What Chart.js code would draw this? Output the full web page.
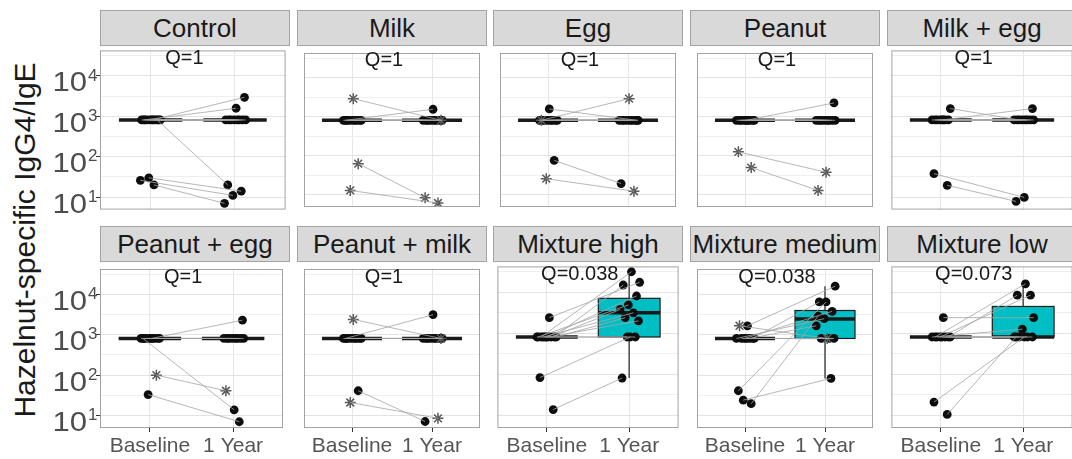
<!DOCTYPE html>
<html>
<head>
<meta charset="utf-8">
<title>Hazelnut-specific IgG4/IgE</title>
<script src="https://cdn.jsdelivr.net/npm/chart.js@4.4.1/dist/chart.umd.min.js"></script>
<style>
  html, body { margin: 0; padding: 0; background: #fff; overflow: hidden; }
  #fig { position: relative; width: 1072px; height: 459px; overflow: hidden; font-family: "Liberation Sans", Arial, sans-serif; }
  #fig canvas { position: absolute; }
  .strip { position: absolute; box-sizing: border-box; width: 190px; height: 36px; background: #d9d9d9;
           border: 1px solid #a3a3a3; color: #1a1a1a; font-size: 26px; line-height: 34px;
           text-align: center; white-space: nowrap; overflow: hidden; }
  #ytitle { position: absolute; left: -175px; top: 225px; width: 400px; height: 30px; font-size: 30px;
            line-height: 30px; text-align: center; white-space: nowrap; color: #1a1a1a; transform: rotate(-90deg); }
</style>
</head>
<body>
<div id="fig">
  <div id="ytitle">Hazelnut-specific IgG4/IgE</div>
</div>
<script>
// ---- data ---------------------------------------------------------------
const panelNames = ['Control', 'Milk', 'Egg', 'Peanut', 'Milk + egg',
                    'Peanut + egg', 'Peanut + milk', 'Mixture high', 'Mixture medium', 'Mixture low'];
const qLabels = ['Q=1', 'Q=1', 'Q=1', 'Q=1', 'Q=1', 'Q=1', 'Q=1', 'Q=0.038', 'Q=0.038', 'Q=0.073'];
const timeLabels = ['Baseline', '1 Year'];
const yTickValues = [10, 100, 1000, 10000];
const yTickPowers = ['1', '2', '3', '4'];

// one entry per participant, same index at baseline and at 1 year
const baselineValues = [
  [810, 810, 810, 810, 810, 810, 810, 810, 810, 810, 810, 30, 26, 20],
  [810, 810, 810, 810, 810, 810, 810, 810, 2900, 810, 63, 13],
  [810, 810, 810, 810, 810, 810, 810, 810, 1580, 810, 76, 26],
  [810, 810, 810, 810, 810, 810, 810, 810, 810, 126, 50],
  [810, 810, 810, 810, 810, 810, 810, 1550, 810, 38, 19.5],
  [810, 810, 810, 810, 810, 810, 810, 810, 810, 810, 100, 33],
  [810, 810, 810, 810, 810, 810, 810, 810, 2400, 810, 41, 21],
  [2400, 810, 810, 810, 810, 810, 810, 810, 810, 83, 13.8, 810, 810],
  [1670, 1670, 810, 810, 810, 810, 810, 810, 810, 41, 19.6, 24],
  [2400, 810, 810, 810, 810, 810, 810, 810, 810, 21, 10.5]
];
const yearValues = [
  [810, 810, 810, 810, 810, 810, 810, 810, 2950, 1580, 20, 14, 11, 7],
  [810, 810, 810, 810, 810, 810, 810, 810, 810, 1550, 8.4, 6.2],
  [810, 810, 810, 810, 810, 810, 810, 810, 810, 2900, 19.5, 12.4],
  [810, 810, 810, 810, 810, 810, 810, 810, 2250, 38, 13],
  [810, 810, 810, 810, 810, 810, 810, 810, 1550, 9.8, 7.8],
  [810, 810, 810, 810, 810, 810, 810, 810, 2300, 13.8, 41, 7],
  [810, 810, 810, 810, 810, 810, 810, 810, 810, 3150, 7.1, 8.5],
  [17500, 31600, 15000, 8100, 4900, 3800, 3150, 2400, 2000, 810, 81, 810, 810],
  [16000, 810, 6500, 3800, 2500, 1670, 810, 810, 810, 6500, 2900, 83],
  [2400, 16000, 8500, 8500, 1260, 810, 810, 810, 810, 810, 810]
];
// participants drawn as asterisks instead of dots (indexes into the rows above)
const asteriskRows = [[], [8, 10, 11], [9, 11], [9, 10], [], [10], [8, 11], [], [1], []];

// box summaries: [lower whisker, q1, median, q3, upper whisker]
const baselineBoxes = [
  [810, 810, 810, 810, 810], [810, 810, 810, 810, 810], [810, 810, 810, 810, 810],
  [810, 810, 810, 810, 810], [810, 810, 810, 810, 810], [810, 810, 810, 810, 810],
  [810, 810, 810, 810, 810], [810, 810, 810, 810, 810], [810, 810, 810, 810, 810],
  [810, 810, 810, 810, 810]
];
const yearBoxes = [
  [810, 810, 810, 810, 810], [810, 810, 810, 810, 810], [810, 810, 810, 810, 810],
  [810, 810, 810, 810, 810], [810, 810, 810, 810, 810], [810, 810, 810, 810, 810],
  [810, 810, 810, 810, 810],
  [81, 810, 3150, 7100, 31600],
  [83, 810, 2470, 4000, 16000],
  [810, 810, 810, 4500, 16000]
];

// ---- layout -------------------------------------------------------------
const FONT = '"Liberation Sans", Arial, sans-serif';
const PANEL_W = 190;
const colLeft = [100, 297, 493, 690, 887];
const rowTop = [46, 262];
const rowHeight = [168, 166];
const stripTop = [10, 226];
const boxFill = ['#f8766d', '#00bfc4'];
const Y_MIN = Math.pow(10, 0.69);
const Y_MAX = Math.pow(10, 4.63);

Chart.defaults.font.family = FONT;
Chart.defaults.animation = false;

// spread points sideways so identical values do not sit on top of each other
function jitter(i, t) {
  const u = ((i + 1) * 0.6180339 + t * 0.37) % 1;
  return (u - 0.5) * 0.26;
}

function isMajor(v) {
  return Math.abs(Math.log10(v) - Math.round(Math.log10(v))) < 1e-6;
}

// grid at every decade and half decade
const gridValues = [];
for (let e = 1; e <= 4.5; e += 0.5) gridValues.push(Math.pow(10, e));

const panelDecor = {
  id: 'panelDecor',
  beforeDatasetsDraw(chart, args, opts) {
    const { ctx, scales: { x, y } } = chart;
    const p = opts.panel;
    [baselineBoxes[p], yearBoxes[p]].forEach((box, t) => {
      const [lo, q1, med, q3, hi] = box;
      const cx = x.getPixelForValue(t + 1);
      const x0 = x.getPixelForValue(t + 1 - 0.375);
      const x1 = x.getPixelForValue(t + 1 + 0.375);
      const yq1 = y.getPixelForValue(q1);
      const yq3 = y.getPixelForValue(q3);
      ctx.save();
      // whiskers
      ctx.strokeStyle = '#555';
      ctx.lineWidth = 1.6;
      ctx.beginPath();
      if (hi > q3) { ctx.moveTo(cx, yq3); ctx.lineTo(cx, y.getPixelForValue(hi)); }
      if (lo < q1) { ctx.moveTo(cx, yq1); ctx.lineTo(cx, y.getPixelForValue(lo)); }
      ctx.stroke();
      // box and median
      ctx.fillStyle = boxFill[t];
      ctx.fillRect(x0, yq3, x1 - x0, yq1 - yq3);
      ctx.strokeStyle = '#1a1a1a';
      ctx.lineWidth = 1.2;
      ctx.strokeRect(x0, yq3, x1 - x0, yq1 - yq3);
      const ym = y.getPixelForValue(med);
      ctx.lineWidth = 3.4;
      ctx.beginPath();
      ctx.moveTo(x0, ym);
      ctx.lineTo(x1, ym);
      ctx.stroke();
      ctx.restore();
    });
  },
  afterDraw(chart, args, opts) {
    const { ctx, chartArea: a, scales: { x, y } } = chart;
    ctx.save();
    ctx.strokeStyle = '#a3a3a3';
    ctx.lineWidth = 1;
    ctx.strokeRect(a.left + 0.5, a.top + 0.5, a.right - a.left - 1, a.bottom - a.top - 1);

    // test result above the boxes
    ctx.fillStyle = '#1a1a1a';
    ctx.font = '20px ' + FONT;
    ctx.textAlign = 'center';
    ctx.textBaseline = 'middle';
    ctx.fillText(qLabels[opts.panel], x.getPixelForValue(1.4), y.getPixelForValue(Math.pow(10, 4.43)));

    // power-of-ten labels on the first column, a little wider than the plain font
    if (opts.col === 0) {
      ctx.fillStyle = '#4d4d4d';
      yTickValues.forEach((v, i) => {
        const py = y.getPixelForValue(v);
        ctx.save();
        ctx.translate(a.left - 13, py + 8);
        ctx.scale(1.15, 1);
        ctx.font = '27px ' + FONT;
        ctx.textAlign = 'right';
        ctx.fillText('10', 0, 0);
        ctx.restore();
        ctx.font = '17px ' + FONT;
        ctx.textAlign = 'left';
        ctx.fillText(yTickPowers[i], a.left - 12, py);
      });
    }
    ctx.restore();
  }
};

function makePanel(p) {
  const col = p % 5;
  const row = Math.floor(p / 5);
  const leftAxis = col === 0 ? 100 : 0;
  const bottomAxis = row === 1 ? 31 : 0;
  const fig = document.getElementById('fig');

  const strip = document.createElement('div');
  strip.className = 'strip';
  strip.style.left = colLeft[col] + 'px';
  strip.style.top = stripTop[row] + 'px';
  strip.textContent = panelNames[p];
  fig.appendChild(strip);

  const canvas = document.createElement('canvas');
  canvas.width = PANEL_W + leftAxis;
  canvas.height = rowHeight[row] + bottomAxis;
  canvas.style.left = (colLeft[col] - leftAxis) + 'px';
  canvas.style.top = rowTop[row] + 'px';
  fig.appendChild(canvas);

  const stars = asteriskRows[p];
  const dots = [], asts = [], links = [];
  baselineValues[p].forEach((b, i) => {
    const v = yearValues[p][i];
    const a = { x: 1 + jitter(i, 0), y: b };
    const c = { x: 2 + jitter(i, 1), y: v };
    const target = stars.includes(i) ? asts : dots;
    target.push(a, c);
    links.push(a, c, { x: 1.5, y: null });
  });

  new Chart(canvas, {
    type: 'scatter',
    data: {
      datasets: [
        { data: links, showLine: true, spanGaps: false, borderColor: 'rgba(165,165,165,0.8)',
          borderWidth: 1, pointRadius: 0, order: 0 },
        { data: asts, pointStyle: 'star', pointRadius: 5.5, borderColor: '#5a5a5a',
          borderWidth: 1.5, backgroundColor: '#5a5a5a', order: 1 },
        { data: dots, pointStyle: 'circle', pointRadius: 4.4, backgroundColor: '#0d0d0d',
          borderWidth: 0, order: 2 }
      ]
    },
    options: {
      responsive: false,
      events: [],
      layout: { padding: 0 },
      plugins: { legend: { display: false }, tooltip: { enabled: false }, panelDecor: { panel: p, col: col } },
      scales: {
        x: {
          type: 'linear', min: 0.4, max: 2.6,
          afterBuildTicks: s => { s.ticks = [{ value: 1 }, { value: 2 }]; },
          afterFit: s => { s.height = bottomAxis; },
          border: { display: false },
          grid: { color: '#e6e6e6', lineWidth: 1, drawTicks: row === 1, tickLength: 4, tickColor: '#333' },
          ticks: { display: row === 1, autoSkip: false, maxRotation: 0, padding: 2, color: '#555',
                   font: { size: 21 }, callback: v => timeLabels[v - 1] }
        },
        y: {
          type: 'logarithmic', min: Y_MIN, max: Y_MAX,
          afterBuildTicks: s => { s.ticks = gridValues.map(v => ({ value: v })); },
          afterFit: s => { s.width = leftAxis; },
          border: { display: false },
          grid: {
            color: c => (c.tick && isMajor(c.tick.value)) ? '#e3e3e3' : '#efefef',
            lineWidth: 1,
            drawTicks: col === 0, tickLength: 4,
            tickColor: c => (c.tick && isMajor(c.tick.value)) ? '#333' : 'rgba(0,0,0,0)'
          },
          ticks: { display: false }
        }
      }
    },
    plugins: [panelDecor]
  });
}

for (let p = 0; p < panelNames.length; p++) makePanel(p);
</script>
</body>
</html>
